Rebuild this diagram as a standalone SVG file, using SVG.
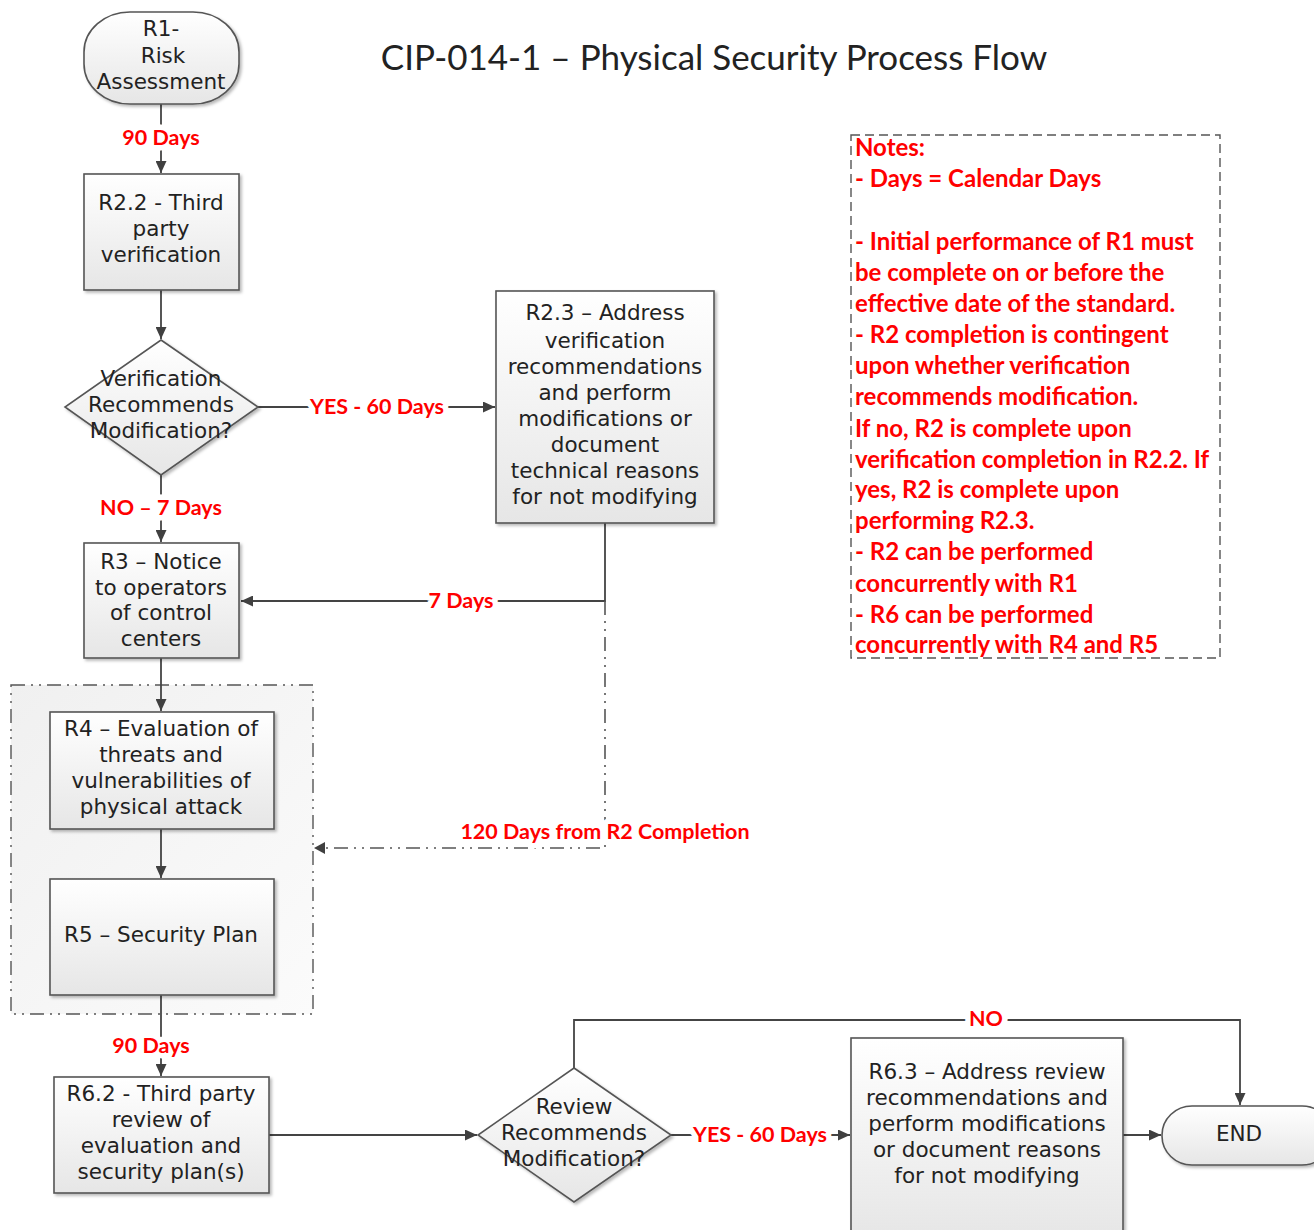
<svg xmlns="http://www.w3.org/2000/svg" width="1314" height="1230" viewBox="0 0 1314 1230">
<defs>
<linearGradient id="gNode" x1="0" y1="0" x2="0" y2="1">
<stop offset="0" stop-color="#ffffff"/>
<stop offset="1" stop-color="#e6e6e6"/>
</linearGradient>
<linearGradient id="gGroup" x1="0" y1="0" x2="1" y2="1">
<stop offset="0" stop-color="#f0f0f0"/>
<stop offset="1" stop-color="#fbfbfb"/>
</linearGradient>
<filter id="sh" x="-10%" y="-10%" width="125%" height="125%">
<feDropShadow dx="2" dy="2" stdDeviation="1.5" flood-color="#000" flood-opacity="0.28"/>
</filter>
<marker id="ah" markerUnits="userSpaceOnUse" markerWidth="13" markerHeight="11" refX="12" refY="5.5" orient="auto">
<path d="M0,0 L12,5.5 L0,11 z" fill="#404040"/>
</marker>
<style>
.node{fill:url(#gNode);stroke:#555;stroke-width:1.6;filter:url(#sh)}
.t{font-family:"DejaVu Sans",Verdana,sans-serif;font-size:21.5px;fill:#222;text-anchor:middle}
.lbl{font-family:Lato,"Liberation Sans",sans-serif;font-weight:bold;font-size:21.5px;fill:#ff0000;text-anchor:middle;stroke:#fff;stroke-width:11;paint-order:stroke;stroke-linejoin:round}
.note{font-family:Lato,"Liberation Sans",sans-serif;font-weight:bold;font-size:24px;fill:#ff0000}
.c{fill:none;stroke:#444;stroke-width:1.8}
.ca{fill:none;stroke:#444;stroke-width:1.8;marker-end:url(#ah)}
.dd{fill:none;stroke:#555;stroke-width:1.6;stroke-dasharray:14 6 2 6 2 6}
</style>
</defs>
<rect width="1314" height="1230" fill="#fff"/>

<text x="714" y="70" font-family="Lato,'Liberation Sans',sans-serif" font-size="35" fill="#222" text-anchor="middle">CIP-014-1 – Physical Security Process Flow</text>

<g id="group-R4R5">
<rect x="11" y="685" width="302" height="329" fill="url(#gGroup)" stroke="#555" stroke-width="1.4" stroke-dasharray="14 6 2 6 2 6"/>
</g>

<g id="connectors">
<path class="ca" d="M161,104 V173"/>
<path class="ca" d="M161,290 V339"/>
<path class="ca" d="M258,407 H495"/>
<path class="ca" d="M161,475 V542"/>
<path class="ca" d="M605,523 V601 H241"/>
<path class="dd" d="M605,601 V848 H325"/>
<path d="M325,842 L314,848 L325,854 z" fill="#404040"/>
<path class="ca" d="M161,658 V711"/>
<path class="ca" d="M161,829 V878"/>
<path class="ca" d="M161,995 V1076"/>
<path class="ca" d="M269,1135 H477"/>
<path class="ca" d="M671,1135 H850"/>
<path class="ca" d="M1123,1135 H1161"/>
<path class="ca" d="M574,1068 V1020 H1240 V1105"/>
<text class="lbl" x="161" y="145">90 Days</text>
<text class="lbl" x="377" y="414">YES - 60 Days</text>
<text class="lbl" x="161" y="515">NO – 7 Days</text>
<text class="lbl" x="461" y="608">7 Days</text>
<text class="lbl" x="605" y="839">120 Days from R2 Completion</text>
<text class="lbl" x="151" y="1053">90 Days</text>
<text class="lbl" x="760" y="1142">YES - 60 Days</text>
<text class="lbl" x="986" y="1026">NO</text>
</g>

<g id="R1">
<rect class="node" x="84" y="12" width="155" height="92" rx="46" ry="40"/>
<text class="t" x="161" y="36">R1-</text>
<text class="t" x="163" y="63">Risk</text>
<text class="t" x="161" y="89">Assessment</text>
</g>

<g id="R2_2">
<rect class="node" x="84" y="174" width="155" height="116"/>
<text class="t" x="161" y="210">R2.2 - Third</text>
<text class="t" x="161" y="236">party</text>
<text class="t" x="161" y="262">verification</text>
</g>

<g id="D1">
<path class="node" d="M161,340 L258,407 L161,475 L65,407 z"/>
<text class="t" x="161" y="386">Verification</text>
<text class="t" x="161" y="412">Recommends</text>
<text class="t" x="161" y="438">Modification?</text>
</g>

<g id="R2_3">
<rect class="node" x="496" y="291" width="218" height="232"/>
<text class="t" x="605" y="320">R2.3 – Address</text>
<text class="t" x="605" y="348">verification</text>
<text class="t" x="605" y="374">recommendations</text>
<text class="t" x="605" y="400">and perform</text>
<text class="t" x="605" y="426">modifications or</text>
<text class="t" x="605" y="452">document</text>
<text class="t" x="605" y="478">technical reasons</text>
<text class="t" x="605" y="504">for not modifying</text>
</g>

<g id="R3">
<rect class="node" x="84" y="543" width="155" height="115"/>
<text class="t" x="161" y="569">R3 – Notice</text>
<text class="t" x="161" y="595">to operators</text>
<text class="t" x="161" y="620">of control</text>
<text class="t" x="161" y="646">centers</text>
</g>

<g id="R4">
<rect class="node" x="50" y="712" width="224" height="117"/>
<text class="t" x="161" y="736">R4 – Evaluation of</text>
<text class="t" x="161" y="762">threats and</text>
<text class="t" x="161" y="788">vulnerabilities of</text>
<text class="t" x="161" y="814">physical attack</text>
</g>

<g id="R5">
<rect class="node" x="50" y="879" width="224" height="116"/>
<text class="t" x="161" y="942">R5 – Security Plan</text>
</g>

<g id="R6_2">
<rect class="node" x="54" y="1077" width="215" height="116"/>
<text class="t" x="161" y="1101">R6.2 - Third party</text>
<text class="t" x="161" y="1127">review of</text>
<text class="t" x="161" y="1153">evaluation and</text>
<text class="t" x="161" y="1179">security plan(s)</text>
</g>

<g id="D2">
<path class="node" d="M574,1068 L671,1135 L574,1202 L478,1135 z"/>
<text class="t" x="574" y="1114">Review</text>
<text class="t" x="574" y="1140">Recommends</text>
<text class="t" x="574" y="1166">Modification?</text>
</g>

<g id="R6_3">
<rect class="node" x="851" y="1038" width="272" height="200"/>
<text class="t" x="987" y="1079">R6.3 – Address review</text>
<text class="t" x="987" y="1105">recommendations and</text>
<text class="t" x="987" y="1131">perform modifications</text>
<text class="t" x="987" y="1157">or document reasons</text>
<text class="t" x="987" y="1183">for not modifying</text>
</g>

<g id="END">
<rect class="node" x="1162" y="1106" width="170" height="59" rx="30" ry="29"/>
<text class="t" x="1239" y="1141">END</text>
</g>

<g id="notes">
<rect x="851" y="135" width="369" height="523" fill="none" stroke="#555" stroke-width="1.4" stroke-dasharray="9 5"/>
<text class="note" x="855" y="156">Notes:</text>
<text class="note" x="855" y="187">- Days = Calendar Days</text>
<text class="note" x="855" y="250">- Initial performance of R1 must</text>
<text class="note" x="855" y="281">be complete on or before the</text>
<text class="note" x="855" y="312">effective date of the standard.</text>
<text class="note" x="855" y="343">- R2 completion is contingent</text>
<text class="note" x="855" y="374">upon whether verification</text>
<text class="note" x="855" y="405">recommends modification.</text>
<text class="note" x="855" y="437">If no, R2 is complete upon</text>
<text class="note" x="855" y="468">verification completion in R2.2. If</text>
<text class="note" x="855" y="498">yes, R2 is complete upon</text>
<text class="note" x="855" y="529">performing R2.3.</text>
<text class="note" x="855" y="560">- R2 can be performed</text>
<text class="note" x="855" y="592">concurrently with R1</text>
<text class="note" x="855" y="623">- R6 can be performed</text>
<text class="note" x="855" y="653">concurrently with R4 and R5</text>
</g>
</svg>
